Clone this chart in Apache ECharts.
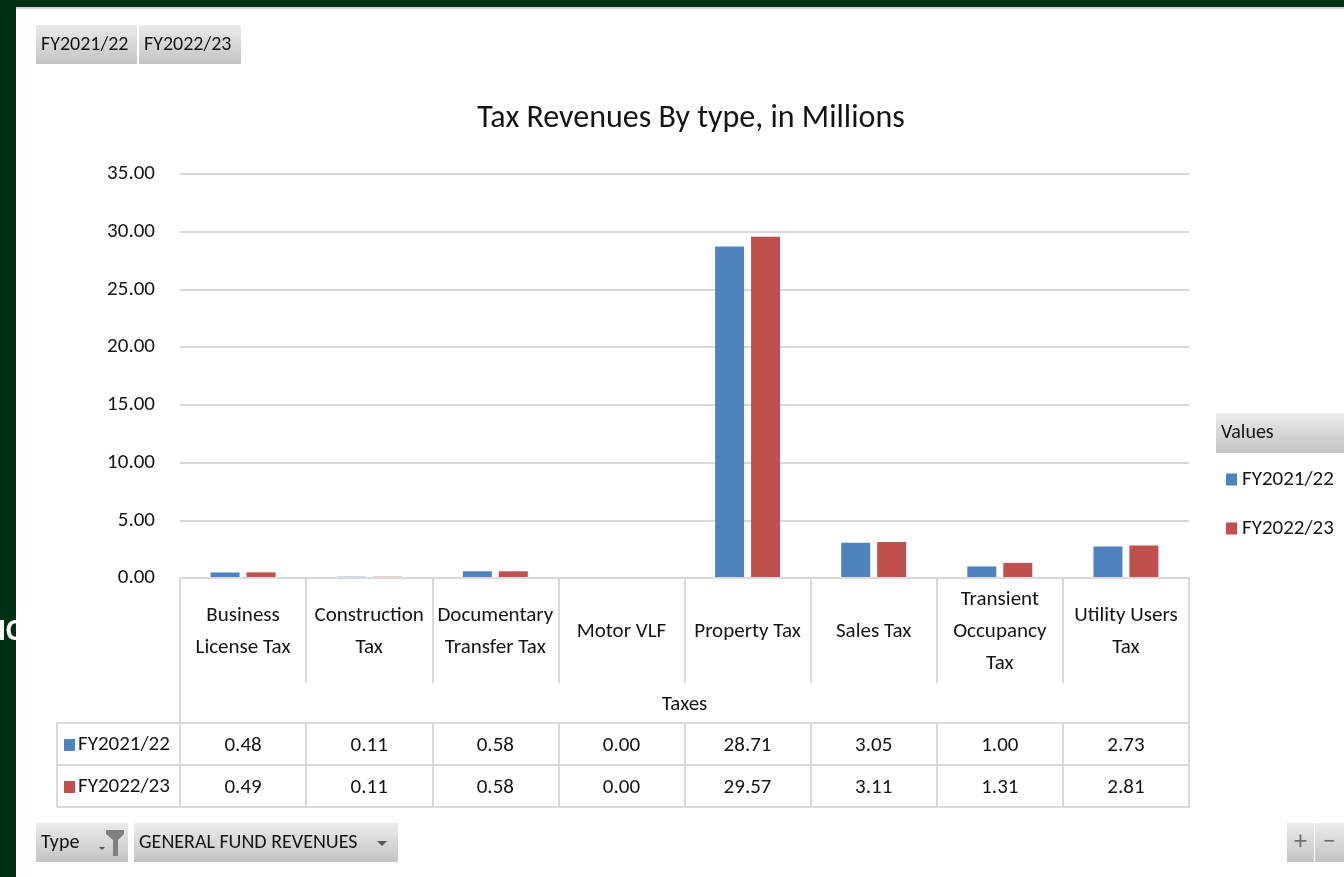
<!DOCTYPE html>
<html>
<head>
<meta charset="utf-8">
<title>Tax Revenues By type, in Millions</title>
<script src="https://cdn.jsdelivr.net/npm/echarts@6/dist/echarts.min.js"></script>
<style>
  html, body { margin: 0; padding: 0; background: #033015; }
  #chart { width: 1344px; height: 877px; }
</style>
</head>
<body>
<div id="chart"></div>
<script>
// ---- data ----
const categories = ['Business License Tax', 'Construction Tax', 'Documentary Transfer Tax', 'Motor VLF',
                    'Property Tax', 'Sales Tax', 'Transient Occupancy Tax', 'Utility Users Tax'];
const categoryLabels = ['Business\nLicense Tax', 'Construction\nTax', 'Documentary\nTransfer Tax', 'Motor VLF',
                        'Property Tax', 'Sales Tax', 'Transient\nOccupancy\nTax', 'Utility Users\nTax'];
const seriesNames = ['FY2021/22', 'FY2022/23'];
const fy2122 = [0.48, 0.11, 0.58, 0.00, 28.71, 3.05, 1.00, 2.73];
const fy2223 = [0.49, 0.11, 0.58, 0.00, 29.57, 3.11, 1.31, 2.81];
const yTicks = [0, 5, 10, 15, 20, 25, 30, 35];
const axisTitle = 'Taxes';
const chartTitle = 'Tax Revenues By type, in Millions';
const filterField = 'Type';
const filterValue = 'GENERAL FUND REVENUES';
const legendHeader = 'Values';

// ---- layout ----
const FONT = 'Carlito, Calibri, Lato, sans-serif';
const TXT = '#141414';
const RULE = '#d9d9d9';
const COLORS = ['#4f81bd', '#c0504d'];
const G = { left: 180, right: 155, top: 174, bottom: 299 };   // plot area
const W = 1344, H = 877;
const axisY = H - G.bottom;            // 578
const plotRight = W - G.right;         // 1189
const rowTop = [723, 765];              // data table rows
const rowH = 42;
const tableBottom = rowTop[1] + rowH;   // 807
const tableLeft = 57;
const FS = 21;

const btnFill = {
  type: 'linear', x: 0, y: 0, x2: 0, y2: 1,
  colorStops: [{ offset: 0, color: '#ebebeb' }, { offset: 1, color: '#c3c3c3' }]
};
function button(x, y, w, h, text, extra) {
  const children = [
    { type: 'rect', shape: { x: 0, y: 0, width: w, height: h }, style: { fill: btnFill } }
  ];
  if (text) {
    children.push({ type: 'text', x: 5, y: h / 2,
      style: { text: text, font: '20px ' + FONT, fill: TXT, textVerticalAlign: 'middle' } });
  }
  return { type: 'group', x: x, y: y, children: children.concat(extra || []) };
}
function line(x1, y1, x2, y2) {
  return { type: 'line', shape: { x1: x1, y1: y1, x2: x2, y2: y2 },
           style: { stroke: RULE, lineWidth: 2 }, z: 5 };
}

const rowAxis = (values, i) => ({
  type: 'category', data: categories, position: 'bottom', offset: rowTop[i] - axisY,
  axisLine: { show: true, lineStyle: { color: RULE, width: 2 } },
  axisTick: { show: true, interval: 0, length: rowH, lineStyle: { color: RULE, width: 2 } },
  axisLabel: { interval: 0, margin: rowH / 2 + 2, verticalAlign: 'middle',
               formatter: (v, idx) => values[idx].toFixed(2),
               fontFamily: FONT, fontSize: FS, color: TXT },
  splitLine: { show: false }
});

const graphics = [
  // fragment of text from the window behind, clipped by the panel
  { type: 'text', z: -3, x: -2, y: 632,
    style: { text: 'IC', font: 'bold 30px ' + FONT, fill: '#ffffff', textVerticalAlign: 'middle' } },
  // white sheet panel with its top rule
  { type: 'rect', z: -2, shape: { x: 16, y: 8, width: W - 16, height: H - 8 }, style: { fill: '#ffffff' } },
  { type: 'rect', z: -2, shape: { x: 16, y: 7, width: W - 16, height: 2 }, style: { fill: '#d4d4d4' } },

  // field buttons
  button(36, 25, 101, 39, seriesNames[0]),
  button(139, 25, 102, 39, seriesNames[1]),
  button(36, 823, 92, 39, filterField, [
    { type: 'polygon', shape: { points: [[63, 24], [69, 24], [66, 27]] }, style: { fill: '#555' } },
    { type: 'polygon', shape: { points: [[70, 7], [88, 7], [88, 11], [82, 17], [82, 33], [77, 33], [77, 17], [70, 11]] },
      style: { fill: '#808080' } }
  ]),
  button(134, 823, 264, 39, filterValue, [
    { type: 'polygon', shape: { points: [[243, 18], [253, 18], [248, 23]] }, style: { fill: '#555' } }
  ]),
  button(1287, 823, 27, 39, '', [
    { type: 'text', x: 13.5, y: 19.5, style: { text: '+', font: '26px ' + FONT, fill: '#6e6e6e',
      textAlign: 'center', textVerticalAlign: 'middle' } }
  ]),
  button(1315, 823, 29, 39, '', [
    { type: 'text', x: 14.5, y: 19.5, style: { text: '\u2212', font: '26px ' + FONT, fill: '#6e6e6e',
      textAlign: 'center', textVerticalAlign: 'middle' } }
  ]),

  // legend header
  button(1216, 413, 128, 40, legendHeader),

  // data table frame
  line(G.left, axisY, G.left, tableBottom),
  line(plotRight, axisY, plotRight, tableBottom),
  line(tableLeft, rowTop[0], G.left, rowTop[0]),
  line(tableLeft, rowTop[1], G.left, rowTop[1]),
  line(tableLeft, tableBottom, G.left, tableBottom),
  line(tableLeft, rowTop[0], tableLeft, tableBottom)
];
// row headers of the data table
seriesNames.forEach((name, i) => {
  const cy = rowTop[i] + rowH / 2 + 1;
  graphics.push({ type: 'rect', shape: { x: 64, y: cy - 6, width: 11, height: 12 }, style: { fill: COLORS[i] } });
  graphics.push({ type: 'text', x: 78, y: cy,
    style: { text: name, font: FS + 'px ' + FONT, fill: TXT, textVerticalAlign: 'middle' } });
});

const chart = echarts.init(document.getElementById('chart'), null, { renderer: 'canvas' });
chart.setOption({
  backgroundColor: '#033015',
  animation: false,
  color: COLORS,
  textStyle: { fontFamily: FONT },
  title: {
    text: chartTitle, left: 686, top: 98, textAlign: 'center',
    textStyle: { fontFamily: FONT, fontSize: 32, fontWeight: 'normal', color: TXT }
  },
  legend: {
    data: seriesNames, orient: 'vertical', left: 1221, top: 464,
    icon: 'rect', itemWidth: 11, itemHeight: 12, itemGap: 28,
    textStyle: { fontFamily: FONT, fontSize: FS, color: TXT }
  },
  grid: { left: G.left, right: G.right, top: G.top, bottom: G.bottom, containLabel: false },
  xAxis: [
    {
      type: 'category', data: categories, position: 'bottom', z: 3,
      axisLine: { show: true, lineStyle: { color: RULE, width: 2 } },
      axisTick: { show: true, interval: 0, length: 105, lineStyle: { color: RULE, width: 2 } },
      axisLabel: { interval: 0, margin: 54, verticalAlign: 'middle', lineHeight: 32,
                   formatter: (v, idx) => categoryLabels[idx],
                   fontFamily: FONT, fontSize: FS, color: TXT },
      name: axisTitle, nameLocation: 'middle', nameGap: 116,
      nameTextStyle: { fontFamily: FONT, fontSize: FS, color: TXT },
      splitLine: { show: false }
    },
    rowAxis(fy2122, 0),
    rowAxis(fy2223, 1),
    {
      type: 'category', data: categories, position: 'bottom', offset: tableBottom - axisY,
      axisLine: { show: true, lineStyle: { color: RULE, width: 2 } },
      axisTick: { show: false }, axisLabel: { show: false }, splitLine: { show: false }
    }
  ],
  yAxis: {
    type: 'value', min: yTicks[0], max: yTicks[yTicks.length - 1], interval: yTicks[1] - yTicks[0],
    axisLine: { show: false }, axisTick: { show: false },
    axisLabel: { margin: 25, formatter: v => v.toFixed(2), fontFamily: FONT, fontSize: FS, color: TXT },
    splitLine: { lineStyle: { color: RULE, width: 2 } }
  },
  series: [
    { name: seriesNames[0], type: 'bar', xAxisIndex: 0, data: fy2122, barWidth: 29, barGap: '24%' },
    { name: seriesNames[1], type: 'bar', xAxisIndex: 0, data: fy2223, barWidth: 29, barGap: '24%' }
  ],
  graphic: graphics
});
</script>
</body>
</html>
